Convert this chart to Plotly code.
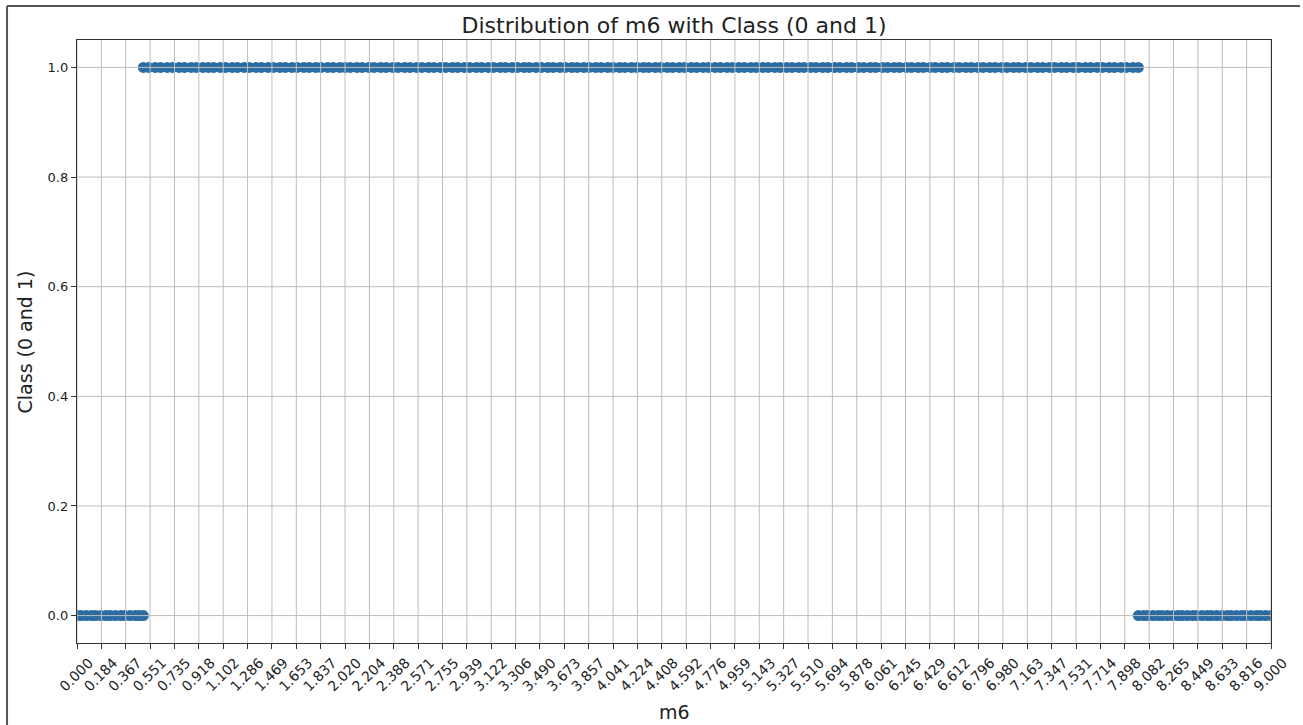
import numpy as np
import plotly.graph_objects as go

# m6 readings by class
m6_class0_low = [0.00, 0.03, 0.07, 0.11, 0.14, 0.18, 0.22, 0.25, 0.29, 0.33, 0.36,
                 0.40, 0.44, 0.47, 0.50]
m6_class1 = [
    0.50, 0.54, 0.59, 0.63, 0.68, 0.72, 0.77, 0.81, 0.86, 0.90, 0.95, 0.99,
    1.03, 1.08, 1.12, 1.17, 1.21, 1.26, 1.30, 1.35, 1.39, 1.44, 1.48, 1.53,
    1.57, 1.62, 1.66, 1.71, 1.75, 1.80, 1.84, 1.89, 1.93, 1.98,
    2.02, 2.06, 2.11, 2.15, 2.20, 2.24, 2.29, 2.33, 2.38, 2.42, 2.47, 2.51,
    2.56, 2.60, 2.65, 2.69, 2.74, 2.78, 2.83, 2.87, 2.92, 2.96,
    3.01, 3.05, 3.10, 3.14, 3.19, 3.23, 3.28, 3.32, 3.37, 3.41, 3.46, 3.50,
    3.55, 3.59, 3.64, 3.68, 3.73, 3.77, 3.82, 3.86, 3.91, 3.95,
    4.00, 4.04, 4.09, 4.13, 4.18, 4.22, 4.27, 4.31, 4.36, 4.40, 4.45, 4.49,
    4.54, 4.58, 4.63, 4.67, 4.72, 4.76, 4.81, 4.85, 4.90, 4.94, 4.99,
    5.03, 5.08, 5.12, 5.17, 5.21, 5.26, 5.30, 5.35, 5.39, 5.44, 5.48, 5.53,
    5.57, 5.62, 5.66, 5.71, 5.75, 5.80, 5.84, 5.89, 5.93, 5.98,
    6.02, 6.07, 6.11, 6.16, 6.20, 6.25, 6.29, 6.34, 6.38, 6.43, 6.47, 6.52,
    6.56, 6.61, 6.65, 6.70, 6.74, 6.79, 6.83, 6.88, 6.92, 6.97,
    7.01, 7.06, 7.10, 7.15, 7.19, 7.24, 7.28, 7.33, 7.37, 7.42, 7.46, 7.51,
    7.55, 7.60, 7.64, 7.69, 7.73, 7.78, 7.82, 7.87, 7.91, 7.96, 8.00,
]
m6_class0_high = [8.00, 8.04, 8.07, 8.11, 8.15, 8.18, 8.22, 8.26, 8.30, 8.33,
                  8.37, 8.41, 8.44, 8.48, 8.52, 8.55, 8.59, 8.63, 8.67, 8.70,
                  8.74, 8.78, 8.81, 8.85, 8.89, 8.92, 8.96, 9.00]

x_tick_labels = [
    "0.000", "0.184", "0.367", "0.551", "0.735", "0.918", "1.102", "1.286",
    "1.469", "1.653", "1.837", "2.020", "2.204", "2.388", "2.571", "2.755",
    "2.939", "3.122", "3.306", "3.490", "3.673", "3.857", "4.041", "4.224",
    "4.408", "4.592", "4.776", "4.959", "5.143", "5.327", "5.510", "5.694",
    "5.878", "6.061", "6.245", "6.429", "6.612", "6.796", "6.980", "7.163",
    "7.347", "7.531", "7.714", "7.898", "8.082", "8.265", "8.449", "8.633",
    "8.816", "9.000",
]
y_tick_values = [0.0, 0.2, 0.4, 0.6, 0.8, 1.0]
y_tick_labels = ["0.0", "0.2", "0.4", "0.6", "0.8", "1.0"]

x_tick_values = np.linspace(0, 9, len(x_tick_labels))

m6_all = m6_class0_low + m6_class1 + m6_class0_high
class_all = [0] * len(m6_class0_low) + [1] * len(m6_class1) + [0] * len(m6_class0_high)

FONT = "DejaVu Sans"
POINT_COLOR = "#2a6ca3"
GRID_COLOR = "#bdbdbd"

fig = go.Figure()
fig.add_trace(go.Scatter(
    x=m6_all, y=class_all, mode="markers",
    marker=dict(size=11, color=POINT_COLOR, line=dict(width=0)),
    showlegend=False, cliponaxis=True,
))

# grid drawn on top of the points
shapes = []
for xv in x_tick_values:
    shapes.append(dict(type="line", xref="x", yref="paper", x0=xv, x1=xv, y0=0, y1=1,
                       line=dict(color=GRID_COLOR, width=1), layer="above"))
for yv in y_tick_values:
    shapes.append(dict(type="line", xref="paper", yref="y", x0=0, x1=1, y0=yv, y1=yv,
                       line=dict(color=GRID_COLOR, width=1), layer="above"))
# outer frame (left and top edges)
shapes.append(dict(type="line", xref="paper", yref="paper", x0=-0.0586, x1=-0.0586,
                   y0=-0.14, y1=1.0564, line=dict(color="#555555", width=2), layer="above"))
shapes.append(dict(type="line", xref="paper", yref="paper", x0=-0.0586, x1=1.0243,
                   y0=1.0564, y1=1.0564, line=dict(color="#555555", width=2), layer="above"))

fig.update_layout(
    width=1303, height=725, autosize=False,
    margin=dict(l=77, r=32, t=40, b=82),
    paper_bgcolor="white", plot_bgcolor="white",
    font=dict(family=FONT, color="#222222"),
    title=dict(text="Distribution of m6 with Class (0 and 1)", x=0.5173, xanchor="center",
               y=1 - 25 / 725, yanchor="middle", yref="container",
               font=dict(size=22, family=FONT, color="#222222")),
    shapes=shapes,
    annotations=[
        dict(text="m6", xref="paper", yref="paper", x=0.5, y=-0.1144,
             xanchor="center", yanchor="middle", showarrow=False,
             font=dict(size=19, family=FONT, color="#222222")),
        dict(text="Class (0 and 1)", xref="paper", yref="paper", x=-0.0436, y=0.5,
             xanchor="center", yanchor="middle", textangle=-90, showarrow=False,
             font=dict(size=19, family=FONT, color="#222222")),
    ],
)

fig.update_xaxes(
    range=[0, 9], tickmode="array", tickvals=x_tick_values, ticktext=x_tick_labels,
    tickangle=-45, ticks="outside", ticklen=5, tickcolor="#333333",
    tickfont=dict(size=14, family=FONT, color="#222222"), ticklabelshift=12,
    showgrid=False, zeroline=False,
    showline=True, linecolor="#333333", linewidth=1.3, mirror=True,
)
fig.update_yaxes(
    range=[-0.05, 1.05], tickmode="array", tickvals=y_tick_values, ticktext=y_tick_labels,
    ticks="outside", ticklen=5, tickcolor="#333333",
    tickfont=dict(size=13, family=FONT, color="#222222"),
    showgrid=False, zeroline=False,
    showline=True, linecolor="#333333", linewidth=1.3, mirror=True,
)

fig.write_html("out.html")
